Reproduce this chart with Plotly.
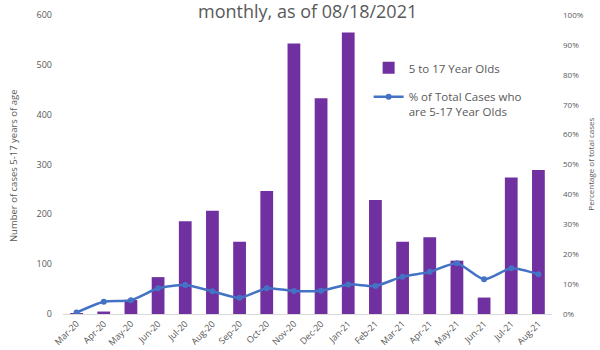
import plotly.graph_objects as go

months = ["Mar-20", "Apr-20", "May-20", "Jun-20", "Jul-20", "Aug-20", "Sep-20", "Oct-20",
          "Nov-20", "Dec-20", "Jan-21", "Feb-21", "Mar-21", "Apr-21", "May-21", "Jun-21",
          "Jul-21", "Aug-21"]
cases_5_17 = [1, 5, 28, 74, 186, 207, 145, 247, 543, 433, 565, 229, 145, 154, 107, 33, 274, 289]
pct_of_total = [0.005, 0.041, 0.046, 0.086, 0.097, 0.076, 0.054, 0.086, 0.077, 0.078,
                0.099, 0.094, 0.125, 0.141, 0.170, 0.116, 0.153, 0.133]

grey = "#595959"
font_family = "Open Sans, Liberation Sans, sans-serif"

fig = go.Figure()
fig.add_trace(go.Bar(
    x=months, y=cases_5_17, name="5 to 17 Year Olds", legendgroup="cases",
    marker=dict(color="#7030A0", line=dict(width=0)),
))
fig.add_trace(go.Scatter(
    x=months, y=pct_of_total, name="% of Total Cases who<br>are 5-17 Year Olds",
    legendgroup="share", yaxis="y2", mode="lines+markers",
    line=dict(color="#4472C4", width=2.5, shape="spline", smoothing=0.6),
    marker=dict(color="#4472C4", size=6),
))

fig.update_layout(
    width=600, height=350,
    margin=dict(l=63, r=48, t=15, b=36),
    paper_bgcolor="white", plot_bgcolor="white",
    font=dict(family=font_family, color=grey, size=9),
    bargap=0.53,
    showlegend=True,
    legend=dict(x=0.625, y=0.87, xanchor="left", yanchor="top", valign="top",
                font=dict(size=11.5, color=grey), bgcolor="rgba(0,0,0,0)",
                tracegroupgap=10, itemwidth=30),
    xaxis=dict(range=[-0.5, len(months) - 0.5], tickangle=-45, showgrid=False,
               showline=True, linecolor="#D9D9D9", linewidth=1, ticks="",
               automargin=False, tickfont=dict(size=9, color=grey)),
    yaxis=dict(range=[0, 600], dtick=100, showgrid=False, zeroline=False,
               showline=False, ticks="", automargin=False, ticklabelstandoff=10,
               tickfont=dict(size=9, color=grey)),
    yaxis2=dict(range=[0, 1], dtick=0.1, tickformat=".0%", overlaying="y",
                side="right", showgrid=False, zeroline=False, showline=False,
                ticks="", automargin=False, ticklabelstandoff=10,
                tickfont=dict(size=8, color=grey)),
    annotations=[
        dict(text="monthly, as of 08/18/2021", xref="paper", yref="paper",
             x=0.499, y=1.013, xanchor="center", yanchor="middle", showarrow=False,
             font=dict(size=18, color=grey, family=font_family)),
        dict(text="Number of cases 5-17 years of age", xref="paper", yref="paper",
             x=-0.1, y=0.495, xanchor="center", yanchor="middle", showarrow=False,
             textangle=-90, font=dict(size=9.5, color=grey, family=font_family)),
        dict(text="Percentage of total cases", xref="paper", yref="paper",
             x=1.078, y=0.5, xanchor="center", yanchor="middle", showarrow=False,
             textangle=-90, font=dict(size=8, color=grey, family=font_family)),
    ],
)

fig.write_html("out.html")
